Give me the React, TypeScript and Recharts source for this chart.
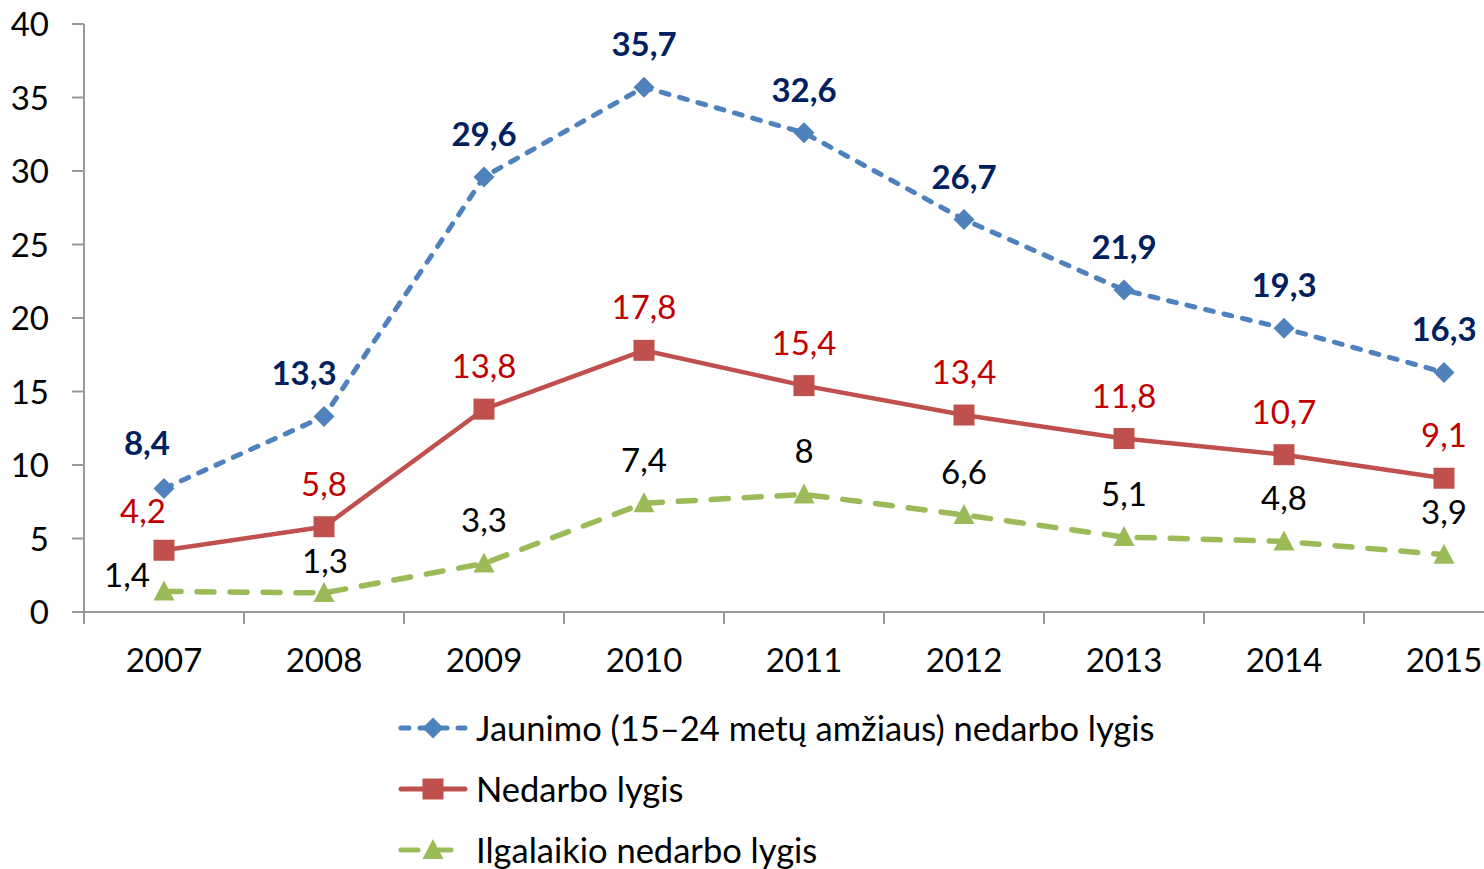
import React from "react";
import { LineChart, Line, XAxis, YAxis, Legend } from "recharts";

const years = ["2007", "2008", "2009", "2010", "2011", "2012", "2013", "2014", "2015"];
const youthRate = [8.4, 13.3, 29.6, 35.7, 32.6, 26.7, 21.9, 19.3, 16.3];
const totalRate = [4.2, 5.8, 13.8, 17.8, 15.4, 13.4, 11.8, 10.7, 9.1];
const longTermRate = [1.4, 1.3, 3.3, 7.4, 8, 6.6, 5.1, 4.8, 3.9];
const yTicks = [0, 5, 10, 15, 20, 25, 30, 35, 40];

const seriesNames = {
  youth: "Jaunimo (15–24 metų amžiaus) nedarbo lygis",
  total: "Nedarbo lygis",
  longTerm: "Ilgalaikio nedarbo lygis",
};

const data = years.map((year, i) => ({
  year,
  youth: youthRate[i],
  total: totalRate[i],
  longTerm: longTermRate[i],
}));

const FONT = "Lato, 'Open Sans', sans-serif";
const FS = 33;
const AXIS = "#999999";
const CHART_W = 1540;
const CHART_H = 869;
const PLOT_W = 1440;
const HALF_BAND = PLOT_W / years.length / 2;

const BLUE = "#4F81BD";
const RED = "#C0504D";
const GREEN = "#9BBB59";
const BLUE_DASH = "8 11";
const GREEN_DASH = "17 16";

// hand placed label nudges like in the original
const nudges: Record<string, Record<number, [number, number]>> = {
  youth: { 0: [-17, -3], 1: [-20, 0] },
  total: { 0: [-21, 4] },
  longTerm: { 0: [-37, 27], 1: [1, 11] },
};

const fmt = (v: number) => String(v).replace(".", ",");

function makeLabel(key: string, color: string, bold: boolean) {
  return (props: any) => {
    const { x, y, value, index } = props;
    const [dx, dy] = nudges[key]?.[index] ?? [0, 0];
    return (
      <text
        x={x + dx}
        y={y - 43 + dy + 12}
        textAnchor="middle"
        fill={color}
        fontFamily={FONT}
        fontSize={FS}
        fontWeight={bold ? 700 : 400}
      >
        {fmt(value)}
      </text>
    );
  };
}

function Marker({ kind, cx, cy, color }: { kind: string; cx: number; cy: number; color: string }) {
  if (kind === "diamond") {
    const r = 10.5;
    return <path d={`M${cx},${cy - r}L${cx + r},${cy}L${cx},${cy + r}L${cx - r},${cy}Z`} fill={color} />;
  }
  if (kind === "square") {
    const s = 10.5;
    return <rect x={cx - s} y={cy - s} width={s * 2} height={s * 2} fill={color} />;
  }
  return (
    <path d={`M${cx},${cy - 11}L${cx + 10.5},${cy + 9}L${cx - 10.5},${cy + 9}Z`} fill={color} />
  );
}

const dot = (kind: string, color: string) => (props: any) => {
  const { cx, cy, index } = props;
  return <Marker key={`${kind}-${index}`} kind={kind} cx={cx} cy={cy} color={color} />;
};

function XTick(props: any) {
  const { x, y, payload } = props;
  return (
    <g>
      <line x1={x - HALF_BAND} y1={y} x2={x - HALF_BAND} y2={y + 12} stroke={AXIS} strokeWidth={2} />
      <text x={x} y={y + 60} textAnchor="middle" fill="#000" fontFamily={FONT} fontSize={FS}>
        {payload.value}
      </text>
    </g>
  );
}

function YTick(props: any) {
  const { x, y, payload } = props;
  return (
    <text x={x} y={y + 12} textAnchor="end" fill="#000" fontFamily={FONT} fontSize={FS}>
      {payload.value}
    </text>
  );
}

const legendRows = [
  { name: seriesNames.youth, color: BLUE, kind: "diamond", dash: BLUE_DASH },
  { name: seriesNames.total, color: RED, kind: "square", dash: undefined },
  { name: seriesNames.longTerm, color: GREEN, kind: "triangle", dash: GREEN_DASH },
];

function LegendBox() {
  return (
    <div style={{ fontFamily: FONT, fontSize: 34.5, color: "#000" }}>
      {legendRows.map((r) => (
        <div key={r.name} style={{ display: "flex", alignItems: "center", height: 61 }}>
          <svg width={78} height={30} style={{ flex: "none" }}>
            <line
              x1={3}
              y1={15}
              x2={67}
              y2={15}
              stroke={r.color}
              strokeWidth={5}
              strokeLinecap="round"
              strokeDasharray={r.dash}
            />
            <Marker kind={r.kind} cx={35} cy={15} color={r.color} />
          </svg>
          <span style={{ whiteSpace: "nowrap" }}>{r.name}</span>
        </div>
      ))}
    </div>
  );
}

export default function App() {
  return (
    <div
      style={{
        position: "fixed",
        left: 0,
        top: 0,
        width: 1484,
        height: 869,
        overflow: "hidden",
        background: "#fff",
      }}
    >
      <LineChart width={CHART_W} height={CHART_H} data={data} margin={{ top: 24, right: 16, left: 0, bottom: 27 }}>
        <XAxis
          dataKey="year"
          height={60}
          padding={{ left: HALF_BAND, right: HALF_BAND }}
          tickLine={false}
          tickSize={0}
          tickMargin={0}
          axisLine={{ stroke: AXIS, strokeWidth: 2 }}
          tick={<XTick />}
          interval={0}
        />
        <YAxis
          width={84}
          domain={[0, 40]}
          ticks={yTicks}
          interval={0}
          tickSize={12}
          tickMargin={23}
          tickLine={{ stroke: AXIS, strokeWidth: 2 }}
          axisLine={{ stroke: AXIS, strokeWidth: 2 }}
          tick={<YTick />}
        />
        <Legend
          content={() => <LegendBox />}
          wrapperStyle={{ left: 398, top: 697, bottom: "auto", width: 900, height: 170 }}
        />
        <Line
          dataKey="youth"
          name={seriesNames.youth}
          stroke={BLUE}
          strokeWidth={5}
          strokeDasharray={BLUE_DASH}
          strokeLinecap="round"
          dot={dot("diamond", BLUE)}
          label={makeLabel("youth", "#002060", true)}
          isAnimationActive={false}
        />
        <Line
          dataKey="total"
          name={seriesNames.total}
          stroke={RED}
          strokeWidth={4.5}
          dot={dot("square", RED)}
          label={makeLabel("total", "#C00000", false)}
          isAnimationActive={false}
        />
        <Line
          dataKey="longTerm"
          name={seriesNames.longTerm}
          stroke={GREEN}
          strokeWidth={5.5}
          strokeDasharray={GREEN_DASH}
          strokeLinecap="round"
          dot={dot("triangle", GREEN)}
          label={makeLabel("longTerm", "#000", false)}
          isAnimationActive={false}
        />
      </LineChart>
    </div>
  );
}
